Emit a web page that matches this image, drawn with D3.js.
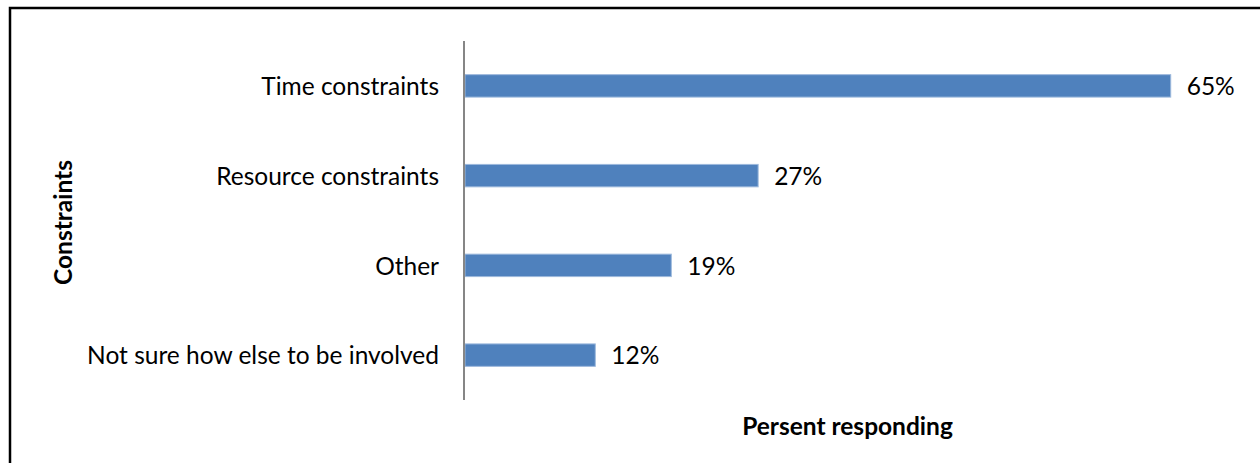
<!DOCTYPE html>
<html>
<head>
<meta charset="utf-8">
<script src="https://cdn.jsdelivr.net/npm/d3@7"></script>
<style>
  html, body { margin: 0; padding: 0; background: #fff; }
  svg { display: block; }
  text { font-family: Lato, "Open Sans", sans-serif; fill: #000; }
</style>
</head>
<body>
<svg id="chart" width="1260" height="463"></svg>
<script>
// Constraints on involvement, share of respondents
const categories = [
  "Time constraints",
  "Resource constraints",
  "Other",
  "Not sure how else to be involved"
];
const values = [0.65, 0.27, 0.19, 0.12];
const valueLabels = ["65%", "27%", "19%", "12%"];
const xDomain = [0, 0.70];
const yTitle = "Constraints";
const xTitle = "Persent responding";

const W = 1260, H = 463;
const plot = { left: 464, right: 1225, top: 41, bottom: 400 };
const labelSize = 24.5;
const titleSize = 24.5;

const svg = d3.select("#chart");

// frame of the chart area (left and top edges visible)
svg.append("rect")
  .attr("x", 10).attr("y", 8)
  .attr("width", W + 20).attr("height", H + 20)
  .attr("fill", "none")
  .attr("stroke", "#000")
  .attr("stroke-width", 2.5);

const x = d3.scaleLinear().domain(xDomain).range([plot.left + 1, plot.right]);
const y = d3.scaleBand().domain(categories).range([plot.top, plot.bottom]).paddingInner(0.75).paddingOuter(0.375);

const data = categories.map((c, i) => ({ cat: c, value: values[i], label: valueLabels[i] }));

// bars
svg.append("g").selectAll("rect")
  .data(data)
  .join("rect")
  .attr("x", x(0))
  .attr("y", d => y(d.cat))
  .attr("width", d => x(d.value) - x(0))
  .attr("height", y.bandwidth())
  .attr("fill", "#4F81BD")
  .attr("stroke", "#9DB9DC")
  .attr("stroke-width", 1);

// category axis
const yAxis = d3.axisLeft(y).tickSize(0).tickPadding(25);
const gy = svg.append("g")
  .attr("transform", `translate(${plot.left},0)`)
  .call(yAxis);
gy.select(".domain")
  .attr("d", `M0,${plot.top}V${plot.bottom}`)
  .attr("stroke", "#868686")
  .attr("stroke-width", 2);
gy.selectAll(".tick text")
  .attr("font-family", "Lato, 'Open Sans', sans-serif")
  .attr("font-size", labelSize)
  .attr("fill", "#000")
  .attr("dy", "0.38em");

// value labels
svg.append("g").selectAll("text")
  .data(data)
  .join("text")
  .attr("x", d => x(d.value) + 16)
  .attr("y", d => y(d.cat) + y.bandwidth() / 2)
  .attr("dy", "0.38em")
  .attr("font-size", labelSize)
  .text(d => d.label);

// axis titles
svg.append("text")
  .attr("transform", `translate(72,${(plot.top + plot.bottom) / 2 + 2}) rotate(-90)`)
  .attr("text-anchor", "middle")
  .attr("font-size", titleSize)
  .attr("font-weight", "bold")
  .text(yTitle);

svg.append("text")
  .attr("x", (plot.left + plot.right) / 2 + 3)
  .attr("y", 435)
  .attr("text-anchor", "middle")
  .attr("font-size", titleSize)
  .attr("font-weight", "bold")
  .text(xTitle);
</script>
</body>
</html>
